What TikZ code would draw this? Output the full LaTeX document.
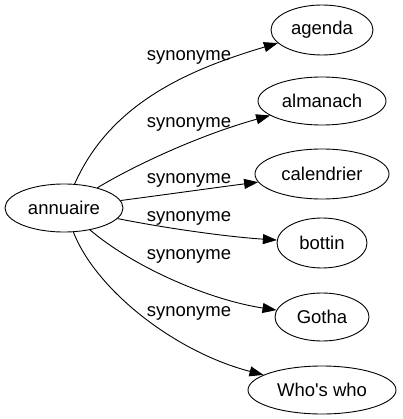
\documentclass[tikz,border=0pt]{standalone}
\usepackage{fontspec}
\setmainfont{Liberation Sans}
\usetikzlibrary{arrows.meta,shapes.geometric}
\begin{document}
\begin{tikzpicture}[x=1pt,y=-1pt,
  word/.style={draw,ellipse,line width=0.9pt,inner sep=0pt,font=\fontsize{18.5}{20}\selectfont},
  lbl/.style={font=\fontsize{18.5}{20}\selectfont,inner sep=0pt},
  edge/.style={line width=0.9pt,-{Triangle[length=14pt,width=10pt]}}]
\useasboundingbox (0,0) rectangle (402,419);
\node[word,minimum width=118pt,minimum height=48pt] (ann) at (64,208) {annuaire};
\node[word,minimum width=102pt,minimum height=50pt] (agenda) at (322,30) {agenda};
\node[word,minimum width=128pt,minimum height=48pt] (alm) at (322,101) {almanach};
\node[word,minimum width=134pt,minimum height=50pt] (cal) at (322,174) {calendrier};
\node[word,minimum width=90pt,minimum height=50pt] (bot) at (322,243) {bottin};
\node[word,minimum width=94pt,minimum height=48pt] (got) at (322,317) {Gotha};
\node[word,minimum width=148pt,minimum height=48pt] (who) at (322,390) {Who\textquotesingle s who};
\draw[edge] (ann) .. controls (110,104) and (187,70) .. (agenda);
\draw[edge] (ann) .. controls (135,165) and (200,135) .. (alm);
\draw[edge] (ann) .. controls (170,194) and (220,187) .. (cal);
\draw[edge] (ann) .. controls (170,229) and (230,237) .. (bot);
\draw[edge] (ann) .. controls (135,268) and (210,300) .. (got);
\draw[edge] (ann) .. controls (96,290) and (175,352) .. (who);
\node[lbl] (l1) at (189,57) {synonyme};
\node[lbl] (l2) at (189,124.5) {synonyme};
\node[lbl] (l3) at (189,180.5) {synonyme};
\node[lbl] (l4) at (189,218) {synonyme};
\node[lbl] (l5) at (189,256.5) {synonyme};
\node[lbl] (l6) at (189,313) {synonyme};
\end{tikzpicture}
\end{document}
